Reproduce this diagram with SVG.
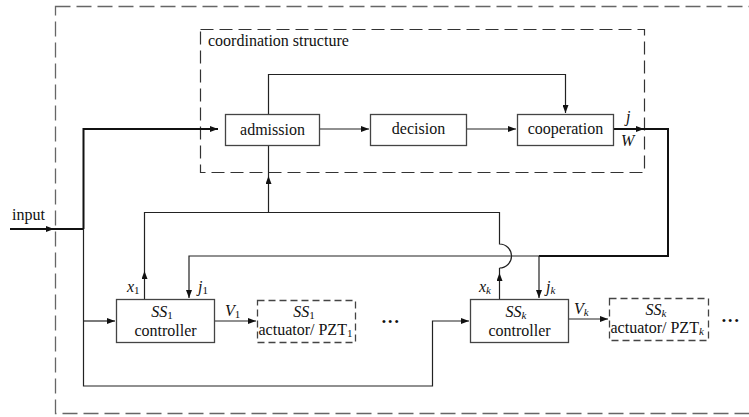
<svg xmlns="http://www.w3.org/2000/svg" width="749" height="417" viewBox="0 0 749 417">
<style>
text{font-family:'Liberation Serif','Times New Roman',Times,'DejaVu Serif',serif;font-size:16px;fill:#111}
.i{font-style:italic}
.n{font-style:normal}
.box{fill:#fff;stroke:#444;stroke-width:1.3}
.dbox{fill:#fff;stroke:#444;stroke-width:1.3;stroke-dasharray:7 4}
.c{fill:none;stroke:#222;stroke-width:1.2}
.k{fill:none;stroke:#111;stroke-width:2}
</style>
<defs>
<marker id="ah" viewBox="0 0 8 6" refX="8" refY="3" markerWidth="8" markerHeight="6" markerUnits="userSpaceOnUse" orient="auto"><path d="M0,0 L8,3 L0,6 z" fill="#111"/></marker>
</defs>
<rect x="55.5" y="6.5" width="700" height="407" fill="none" stroke="#666" stroke-width="1.3" stroke-dasharray="15 6"/>
<g id="coord">
<rect x="200.5" y="29.5" width="444" height="143" fill="none" stroke="#333" stroke-width="1.2" stroke-dasharray="13 6"/>
<text x="208" y="46" font-size="15.5" font-family="Liberation Serif, serif">coordination structure</text>
</g>
<g id="connectors">
<path class="k" d="M10,229 H54" marker-end="url(#ah)"/>
<path class="k" d="M54,229 H83.5 M83.5,229 V129 H218" marker-end="url(#ah)"/>
<path class="c" d="M83.5,229 V386 H432.5 V321 H469" marker-end="url(#ah)"/>
<path class="c" d="M83.5,321 H115" marker-end="url(#ah)"/>
<path class="k" d="M613,129 H644" marker-end="url(#ah)"/>
<path class="k" d="M644,129 H668 V256 H539"/>
<path class="c" d="M539,256 H189 V298" marker-end="url(#ah)"/>
<path class="c" d="M539,256 V298" marker-end="url(#ah)"/>
<path class="c" d="M144.5,299 V271" marker-end="url(#ah)"/>
<path class="c" d="M144.5,271 V212.5 H499.5 V244 A12,12 0 0 1 499.5,268"/>
<path class="c" d="M499.5,299 V273" marker-end="url(#ah)"/>
<path class="c" d="M499.5,273 V268"/>
<path class="c" d="M268.5,212.5 V176" marker-end="url(#ah)"/>
<path class="c" d="M268.5,176 V145"/>
<path class="c" d="M268.5,114 V74.5 H565.5 V113" marker-end="url(#ah)"/>
<path class="c" d="M319,129 H369" marker-end="url(#ah)"/>
<path class="c" d="M466,129 H516" marker-end="url(#ah)"/>
<path class="c" d="M214,321 H256" marker-end="url(#ah)"/>
<path class="c" d="M568,319 H608" marker-end="url(#ah)"/>
</g>
<g id="admission">
<rect class="box" x="225.5" y="114.5" width="94" height="31"/>
<text x="272.5" y="135" text-anchor="middle">admission</text>
</g>
<g id="decision">
<rect class="box" x="370.5" y="114.5" width="96" height="31"/>
<text x="418.5" y="134" text-anchor="middle">decision</text>
</g>
<g id="cooperation">
<rect class="box" x="517.5" y="114.5" width="96" height="31"/>
<text x="565.5" y="134" text-anchor="middle">cooperation</text>
</g>
<g id="ss1-controller">
<rect class="box" x="116.5" y="299.5" width="98" height="43"/>
<text class="i" x="162" y="317" text-anchor="middle">SS<tspan class="n" font-size="11" dy="2">1</tspan></text>
<text x="165.5" y="336" text-anchor="middle">controller</text>
</g>
<g id="ss1-actuator">
<rect class="dbox" x="257.5" y="300.5" width="98" height="42"/>
<text class="i" x="304" y="317" text-anchor="middle">SS<tspan class="n" font-size="11" dy="2">1</tspan></text>
<text x="258.5" y="335">actuator/ PZT<tspan font-size="11" dy="2">1</tspan></text>
</g>
<g id="ssk-controller">
<rect class="box" x="470.5" y="299.5" width="98" height="43"/>
<text class="i" x="516" y="317" text-anchor="middle">SS<tspan font-size="11" dy="2">k</tspan></text>
<text x="519.5" y="336" text-anchor="middle">controller</text>
</g>
<g id="ssk-actuator">
<rect class="dbox" x="609.5" y="298.5" width="99" height="42"/>
<text class="i" x="656" y="315" text-anchor="middle">SS<tspan font-size="11" dy="2">k</tspan></text>
<text x="610.5" y="333">actuator/ PZT<tspan class="i" font-size="11" dy="2">k</tspan></text>
</g>
<g id="labels">
<text x="12" y="220" font-size="15">input</text>
<text class="i" x="626" y="122">j</text>
<text class="i" x="621" y="146">W</text>
<text class="i" x="127" y="292">x<tspan class="n" font-size="11" dy="2">1</tspan></text>
<text class="i" x="198" y="292">j<tspan class="n" font-size="11" dy="2">1</tspan></text>
<text class="i" x="225" y="316">V<tspan class="n" font-size="11" dy="2">1</tspan></text>
<text class="i" x="479" y="292">x<tspan font-size="11" dy="2">k</tspan></text>
<text class="i" x="546" y="292">j<tspan font-size="11" dy="2">k</tspan></text>
<text class="i" x="574" y="314">V<tspan font-size="11" dy="2">k</tspan></text>
<text x="382" y="325" style="font-family:'Liberation Sans',Arial,sans-serif;font-size:11px" letter-spacing="2.5">•••</text>
<text x="722" y="324" style="font-family:'Liberation Sans',Arial,sans-serif;font-size:11px" letter-spacing="2.5">•••</text>
</g>
</svg>
